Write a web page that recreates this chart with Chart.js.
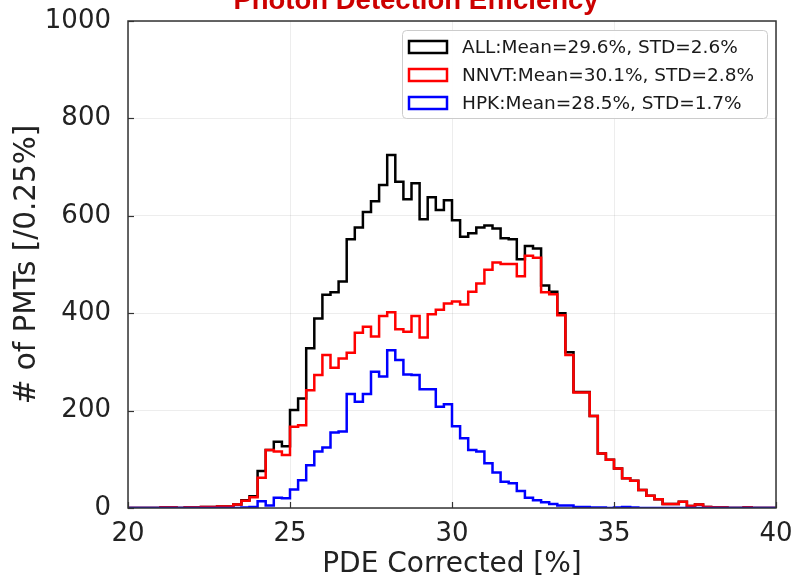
<!DOCTYPE html>
<html>
<head>
<meta charset="utf-8">
<script src="https://cdn.jsdelivr.net/npm/chart.js@4.4.0/dist/chart.umd.min.js"></script>
<style>
  html,body{margin:0;padding:0;background:#fff}
  #wrap{width:795px;height:577px}
</style>
</head>
<body>
<div id="wrap"><canvas id="pde" width="795" height="577"></canvas></div>
<script>
// histogram bins: 20% .. 40% in 0.25% steps
const binStart = 20, binWidth = 0.25;

const allCounts = [
  0,0,0,0,1,1,0,1,1,2,2,3,
  3,7,16,24,76,119,136,127,
  201,225,328,389,438,443,465,552,
  576,608,630,663,725,670,634,667,
  593,638,612,632,591,557,564,576,
  580,574,554,552,511,538,533,457,
  444,400,320,238,238,189,112,99,
  81,61,56,37,25,18,8,8,
  13,4,7,2,1,1,0,0,
  1,0,0,0
];
const nnvtCounts = [
  0,0,0,0,1,1,0,1,1,2,2,3,
  3,7,15,22,62,119,116,109,
  167,170,242,273,314,288,307,319,
  360,372,352,394,402,367,362,394,
  350,398,407,420,424,418,444,461,
  489,504,501,501,476,518,514,443,
  439,396,314,237,237,189,112,99,
  81,61,56,37,25,18,8,8,
  13,4,7,2,1,1,0,0,
  1,0,0,0
];
const hpkCounts = [
  0,0,0,0,0,0,0,0,0,0,0,0,
  0,0,1,2,14,5,21,20,
  38,57,88,116,124,155,157,234,
  218,234,280,270,324,304,274,273,
  244,244,208,213,168,143,119,116,
  92,73,54,51,35,21,16,12,
  8,5,5,2,2,1,1,0,
  1,2,1,0,0,0,0,0,
  0,0,0,0,0,0,0,0,
  0,0,0,0
];

const seriesNames  = ["ALL:Mean=29.6%, STD=2.6%", "NNVT:Mean=30.1%, STD=2.8%", "HPK:Mean=28.5%, STD=1.7%"];
const seriesColors = ["#000000", "#ff0000", "#0000ff"];
const xTicks = [20, 25, 30, 35, 40];
const yTicks = [0, 200, 400, 600, 800, 1000];
const chartTitle = "Photon Detection Efficiency";

(function(){
  const FONT = "'DejaVu Sans', sans-serif";

  // step points at left bin edges, plus the closing right edge
  const stepPoints = counts => {
    const pts = counts.map((v,i)=>({x: binStart + i*binWidth, y: v}));
    pts.push({x: binStart + counts.length*binWidth, y: counts[counts.length-1]});
    return pts;
  };

  const series = [allCounts, nnvtCounts, hpkCounts];
  const datasets = series.map((c,i)=>({
    label: seriesNames[i],
    data: stepPoints(c),
    borderColor: seriesColors[i],
    backgroundColor: "#fff",
    borderWidth: 2.5,
    pointRadius: 0,
    fill: false,
    stepped: "before",
    order: 3 - i          // ALL underneath, HPK on top
  }));

  /* ====== title (cut at the top edge, like the source) ====== */
  const topTitle = {
    id: "topTitle",
    afterDraw(chart){
      const {ctx} = chart;
      ctx.save();
      ctx.font = "bold 27.5px 'Liberation Sans', Arial, sans-serif";
      ctx.fillStyle = "#cc0000";
      ctx.textAlign = "center"; ctx.textBaseline = "alphabetic";
      ctx.fillText(chartTitle, 416, 9);
      ctx.restore();
    }
  };

  /* ====== frame + inward ticks ====== */
  const frame = {
    id: "frame",
    afterDatasetsDraw(chart){
      const {ctx, chartArea: a, scales: {x, y}} = chart;
      ctx.save();
      ctx.strokeStyle = "#333"; ctx.lineWidth = 1.2;
      xTicks.forEach(t=>{
        const px = Math.round(x.getPixelForValue(t)) + .5;
        ctx.beginPath(); ctx.moveTo(px, a.bottom); ctx.lineTo(px, a.bottom-6); ctx.stroke();
      });
      yTicks.forEach(t=>{
        const py = Math.round(y.getPixelForValue(t)) + .5;
        ctx.beginPath(); ctx.moveTo(a.left, py); ctx.lineTo(a.left+6, py); ctx.stroke();
      });
      ctx.lineWidth = 1.5;
      ctx.strokeRect(a.left, a.top, a.right-a.left, a.bottom-a.top);
      ctx.restore();
    }
  };

  /* ====== legend box (upper right, inside plot) ====== */
  const boxLegend = {
    id: "boxLegend",
    afterDraw(chart){
      const {ctx, chartArea: a} = chart;
      const w = 365, h = 88;
      const bx = a.right - 9 - w, by = a.top + 9;
      ctx.save();
      ctx.fillStyle = "rgba(255,255,255,0.9)";
      ctx.strokeStyle = "#cccccc"; ctx.lineWidth = 1;
      ctx.beginPath(); ctx.roundRect(bx+.5, by+.5, w, h, 4); ctx.fill(); ctx.stroke();
      ctx.font = "18.5px " + FONT;
      ctx.textBaseline = "middle";
      chart.data.datasets.forEach((ds,i)=>{
        const cy = by + 17 + i*28;
        ctx.strokeStyle = ds.borderColor; ctx.lineWidth = 2.5;
        ctx.strokeRect(bx+7, cy-6, 38, 12);
        ctx.fillStyle = "#1a1a1a";
        ctx.fillText(ds.label, bx+60, cy+1);
      });
      ctx.restore();
    }
  };

  new Chart(document.getElementById("pde"), {
    type: "line",
    data: { datasets },
    options: {
      responsive: false,
      animation: false,
      layout: { padding: { left: 0, right: 19, top: 21, bottom: 0 } },
      plugins: {
        legend: { display: false },
        tooltip: { enabled: false },
        title: { display: false }
      },
      scales: {
        x: {
          type: "linear", min: xTicks[0], max: xTicks[xTicks.length-1],
          afterBuildTicks: s => { s.ticks = xTicks.map(v=>({value: v})); },
          afterFit: s => { s.height = 69; s.paddingLeft = 0; s.paddingRight = 0; },
          ticks: { font: { family: FONT, size: 26 }, color: "#222", padding: 11, maxRotation: 0,
                   callback: v => String(v) },
          grid: { color: "rgba(0,0,0,0.07)", drawTicks: false },
          border: { display: false },
          title: { display: true, text: "PDE Corrected [%]", color: "#222",
                   font: { family: FONT, size: 28 }, padding: { top: 0, bottom: -5 } }
        },
        y: {
          min: yTicks[0], max: yTicks[yTicks.length-1],
          afterBuildTicks: s => { s.ticks = yTicks.map(v=>({value: v})); },
          afterFit: s => { s.width = 128; s.paddingTop = 0; s.paddingBottom = 0; },
          ticks: { font: { family: FONT, size: 26 }, color: "#222", padding: 17,
                   callback: v => String(v) },
          grid: { color: "rgba(0,0,0,0.07)", drawTicks: false },
          border: { display: false },
          title: { display: true, text: "# of PMTs [/0.25%]", color: "#222",
                   font: { family: FONT, size: 29.5 }, padding: { top: 10, bottom: 0 } }
        }
      }
    },
    plugins: [frame, boxLegend, topTitle]
  });
})();
</script>
</body>
</html>
